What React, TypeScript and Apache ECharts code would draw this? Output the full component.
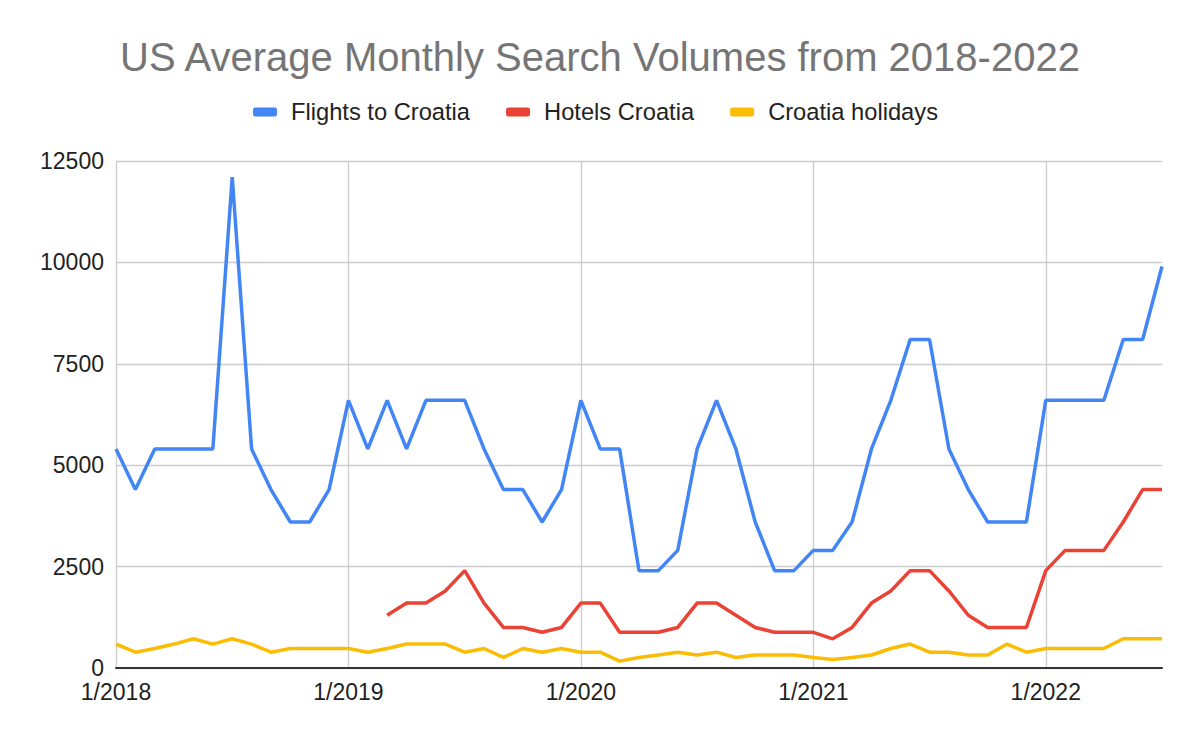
import React, { useEffect, useRef } from "react";
import * as echarts from "echarts";

const months: string[] = [
  "1/2018","2/2018","3/2018","4/2018","5/2018","6/2018","7/2018","8/2018","9/2018","10/2018","11/2018","12/2018",
  "1/2019","2/2019","3/2019","4/2019","5/2019","6/2019","7/2019","8/2019","9/2019","10/2019","11/2019","12/2019",
  "1/2020","2/2020","3/2020","4/2020","5/2020","6/2020","7/2020","8/2020","9/2020","10/2020","11/2020","12/2020",
  "1/2021","2/2021","3/2021","4/2021","5/2021","6/2021","7/2021","8/2021","9/2021","10/2021","11/2021","12/2021",
  "1/2022","2/2022","3/2022","4/2022","5/2022","6/2022","7/2022",
];

const flightsToCroatia: number[] = [
  5400, 4400, 5400, 5400, 5400, 5400, 12100, 5400, 4400, 3600, 3600, 4400,
  6600, 5400, 6600, 5400, 6600, 6600, 6600, 5400, 4400, 4400, 3600, 4400,
  6600, 5400, 5400, 2400, 2400, 2900, 5400, 6600, 5400, 3600, 2400, 2400,
  2900, 2900, 3600, 5400, 6600, 8100, 8100, 5400, 4400, 3600, 3600, 3600,
  6600, 6600, 6600, 6600, 8100, 8100, 9900,
];

const hotelsCroatia: (number | null)[] = [
  null, null, null, null, null, null, null, null, null, null, null, null,
  null, null, 1300, 1600, 1600, 1900, 2400, 1600, 1000, 1000, 880, 1000,
  1600, 1600, 880, 880, 880, 1000, 1600, 1600, 1300, 1000, 880, 880,
  880, 720, 1000, 1600, 1900, 2400, 2400, 1900, 1300, 1000, 1000, 1000,
  2400, 2900, 2900, 2900, 3600, 4400, 4400,
];

const croatiaHolidays: number[] = [
  590, 390, 480, 590, 720, 590, 720, 590, 390, 480, 480, 480,
  480, 390, 480, 590, 590, 590, 390, 480, 260, 480, 390, 480,
  390, 390, 170, 260, 320, 390, 320, 390, 260, 320, 320, 320,
  260, 210, 260, 320, 480, 590, 390, 390, 320, 320, 590, 390,
  480, 480, 480, 480, 720, 720, 720,
];

const yTicks = { min: 0, max: 12500, interval: 2500 };

const FONT = '"Liberation Sans", Arial, sans-serif';

export default function App() {
  const ref = useRef<HTMLDivElement>(null);

  useEffect(() => {
    if (!ref.current) return;
    const chart = echarts.init(ref.current, undefined, { renderer: "svg" });
    const yearStart = (index: number) => index % 12 === 0;
    chart.setOption({
      animation: false,
      backgroundColor: "#ffffff",
      title: {
        text: "US Average Monthly Search Volumes from 2018-2022",
        left: "center",
        top: 32,
        textStyle: {
          fontFamily: FONT,
          fontSize: 40,
          fontWeight: "normal",
          color: "#757575",
        },
      },
      legend: {
        left: 248,
        top: 95,
        itemWidth: 24,
        itemHeight: 9,
        itemGap: 36,
        icon: "roundRect",
        textStyle: {
          fontFamily: FONT,
          fontSize: 23.7,
          color: "#222222",
          padding: [0, 0, 0, 9],
        },
        data: ["Flights to Croatia", "Hotels Croatia", "Croatia holidays"],
      },
      grid: { left: 116, right: 38, top: 161, bottom: 74, containLabel: false },
      xAxis: {
        type: "category",
        data: months,
        boundaryGap: false,
        axisLine: { show: true, lineStyle: { color: "#333333", width: 2 } },
        axisTick: { show: false },
        axisLabel: {
          interval: yearStart,
          fontFamily: FONT,
          fontSize: 23,
          color: "#222222",
          margin: 12,
        },
        splitLine: {
          show: true,
          interval: yearStart,
          lineStyle: { color: "#cccccc", width: 1.3 },
        },
      },
      yAxis: {
        type: "value",
        min: yTicks.min,
        max: yTicks.max,
        interval: yTicks.interval,
        axisLine: { show: false },
        axisTick: { show: false },
        axisLabel: {
          fontFamily: FONT,
          fontSize: 23,
          color: "#222222",
          margin: 12,
          formatter: (v: number) => String(v),
        },
        splitLine: { show: true, lineStyle: { color: "#cccccc", width: 1.3 } },
      },
      series: [
        {
          name: "Flights to Croatia",
          type: "line",
          data: flightsToCroatia,
          symbol: "none",
          lineStyle: { width: 3.5, color: "#4285F4" },
          itemStyle: { color: "#4285F4" },
          z: 4,
        },
        {
          name: "Hotels Croatia",
          type: "line",
          data: hotelsCroatia,
          symbol: "none",
          connectNulls: false,
          lineStyle: { width: 3.5, color: "#EA4335" },
          itemStyle: { color: "#EA4335" },
          z: 3,
        },
        {
          name: "Croatia holidays",
          type: "line",
          data: croatiaHolidays,
          symbol: "none",
          lineStyle: { width: 3.5, color: "#FBBC04" },
          itemStyle: { color: "#FBBC04" },
          z: 2,
        },
      ],
    });
    return () => chart.dispose();
  }, []);

  return (
    <div
      ref={ref}
      style={{ position: "fixed", left: 0, top: 0, width: 1200, height: 742, background: "#fff" }}
    />
  );
}
